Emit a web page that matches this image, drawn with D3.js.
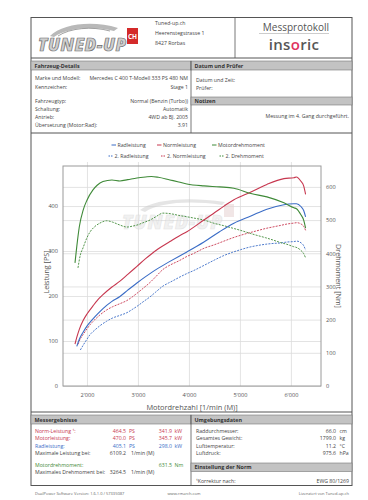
<!DOCTYPE html>
<html><head><meta charset="utf-8">
<script src="https://cdn.jsdelivr.net/npm/d3@7"></script>
<style>body{margin:0;background:#fff}svg{display:block}text{font-family:"Open Sans",sans-serif}</style>
</head><body><svg id="c" width="368" height="500"></svg>
<script>
// ---------- data ----------
const rpmTicks = [2000, 3000, 4000, 5000, 6000];
const psTicks = [0, 100, 200, 300, 400];
const nmTicks = [0, 100, 200, 300, 400, 500, 600];

const rpm1 = [1765,1800,1850,1927,2000,2118,2200,2314,2490,2647,2800,2980,3150,3264,3400,3627,3800,3960,4294,4600,4882,5216,5529,5863,6059,6109,6196,6250,6288];
const normPS = [93,108,126,146,160,178,190,203,220,233,248,266,283,293.5,305,321,333,343,369,393,414,431,448,461,463,464.5,455,445,426];
const wheelPS = [null,88,104,120,133,149,159,172,188,199,213,229,243,252,262,277,288,298,320,343,362,378,393,403,405,405.1,399,390,376];
const motorNm = [371,420,480,531,560,591,605,616,621,618,622,627,630,631.5,629,621,615,609,603,600,596,580,570,552,537,534,516,500,476];

const rpm2 = [1824,1870,1922,2000,2059,2150,2255,2386,2500,2647,2784,2900,2980,3100,3235,3350,3490,3600,3686,3800,3961,4100,4294,4500,4686,4850,5013,5200,5333,5500,5667,5800,5922,6050,6118,6200,6250,6288];
const norm2PS = [92.5,105,114,127,136,147,158,169,176,183,190,199,206,217,230,243,259,267,272,278,288,295,306,314,322,329,335,341,345,350,354,357,360,362,363,360,355,346];
const wheel2PS = [null,80,90,104,114,124,134,144,151,157,163,171,177,187,198,209,222,229,234,241,250,257,268,280,290,297,303,309,312,315,317,318,320,321,322,318,312,302];
const torque2Nm = [356,395,416,447,464,480,491,498,494,485,479,482,485,492,500,510,521,520,518,514,510,506,500,490,483,476,469,460,454,447,439,432,427,420,417,408,399,386];

const detailLabels = ["Marke und Modell:", "Kennzeichen:", "Fahrzeugtyp:", "Schaltung:", "Antrieb:", "Übersetzung (Motor:Rad):"];
const detailValues = ["Mercedes C 400 T-Modell 333 PS 480 NM", "Stage 1", "Normal (Benzin (Turbo))", "Automatik", "4WD ab BJ. 2005", "3.91"];
const envLabels = ["Raddurchmesser:", "Gesamtes Gewicht:", "Lufttemperatur:", "Luftdruck:"];
const envValues = ["66.0", "1799.0", "11.2", "975.6"];
const envUnits = ["cm", "kg", "°C", "hPa"];

const C = {blue:"#3a6cc6", red:"#c7374f", green:"#3f8a38", frame:"#555", grid:"#dcdcdc", txt:"#444", bar:"#c3c3c3"};
const FS = 5.2;

const svg = d3.select("#c");
svg.append("rect").attr("width",368).attr("height",500).attr("fill","#fff");

function txt(g, x, y, s, opt={}) {
  return g.append("text").attr("x",x).attr("y",y).text(s)
    .attr("font-size", opt.size||FS).attr("fill", opt.fill||C.txt)
    .attr("text-anchor", opt.anchor||"start").attr("font-weight", opt.weight||"normal")
    .attr("dominant-baseline","central");
}
function bar(x1, y1, x2, y2, label) {
  svg.append("rect").attr("x",x1).attr("y",y1).attr("width",x2-x1).attr("height",y2-y1)
    .attr("fill",C.bar).attr("stroke","#777").attr("stroke-width",0.6);
  txt(svg, x1+3.5, (y1+y2)/2, label, {weight:"bold", fill:"#333", size:5.4});
}
function hline(x1,x2,y,w=1,col=C.frame){svg.append("line").attr("x1",x1).attr("x2",x2).attr("y1",y).attr("y2",y).attr("stroke",col).attr("stroke-width",w);}
function vline(x,y1,y2,w=1,col=C.frame){svg.append("line").attr("x1",x).attr("x2",x).attr("y1",y1).attr("y2",y2).attr("stroke",col).attr("stroke-width",w);}

// ---------- frame ----------
svg.append("rect").attr("x",31).attr("y",17.5).attr("width",321).attr("height",468)
  .attr("fill","none").attr("stroke",C.frame).attr("stroke-width",1);
hline(31,352,58);
vline(235,17.5,58,0.8);

// header: logo
const logo = svg.append("g");
logo.append("path").attr("d","M50,36 C62,24 92,20 118,28 L114,31 C92,25 66,28 54,37 Z").attr("fill","#b9b9b9");
logo.append("path").attr("d","M58,36 C70,28 92,26 110,31").attr("fill","none").attr("stroke","#8a8a8a").attr("stroke-width",0.8);
logo.append("text").attr("x",38).attr("y",51).text("TUNED-UP").attr("font-size",17).attr("font-weight","900")
  .attr("font-style","italic").attr("fill","#cfcfcf").attr("stroke","#6e6e6e").attr("stroke-width",0.7)
  .attr("textLength",88).attr("font-family","DejaVu Sans");
logo.append("rect").attr("x",127).attr("y",28).attr("width",11).attr("height",16).attr("fill","#d42a2a");
logo.append("text").attr("x",132.5).attr("y",39).text("CH").attr("font-size",6.5).attr("font-weight","bold").attr("text-anchor","middle").attr("fill","#fff");
txt(svg,155,23,"Tuned-up.ch");
txt(svg,155,33,"Heerenstegstrasse 1");
txt(svg,155,43,"8427 Rorbas");
txt(svg,296,27,"Messprotokoll",{size:10,anchor:"middle",fill:"#555"});
hline(259,329,33.5,0.6,"#aaa");
const ins = svg.append("text").attr("x",294).attr("y",44).attr("text-anchor","middle").attr("dominant-baseline","central")
  .attr("font-size",15).attr("font-weight",600).attr("fill","#575757").attr("letter-spacing",0.3);
ins.append("tspan").text("ins");
ins.append("tspan").text("o").attr("fill","#e0325f");
ins.append("tspan").text("ric");

// ---------- details ----------
bar(31,61,191,70,"Fahrzeug-Details");
bar(191,61,352,70,"Datum und Prüfer");
vline(191,61,133,0.8);
const detY = [78,86.5,101,108.5,116.5,124.5];
detailLabels.forEach((l,i)=>{ txt(svg,35,detY[i],l); txt(svg,188,detY[i],detailValues[i],{anchor:"end"}); });
txt(svg,196,79.5,"Datum und Zeit:");
txt(svg,196,88,"Prüfer:");
bar(191,97,352,105,"Notizen");
txt(svg,349,116,"Messung im 4. Gang durchgeführt.",{anchor:"end"});
hline(31,352,133);

// ---------- legend ----------
const leg = [
  {x:111.5,y:145,t:"Radleistung",c:C.blue,d:null},
  {x:157,y:145,t:"Normleistung",c:C.red,d:null},
  {x:212,y:145,t:"Motordrehmoment",c:C.green,d:null},
  {x:108.5,y:156,t:"2. Radleistung",c:C.blue,d:"1.5,1"},
  {x:161,y:156,t:"2. Normleistung",c:C.red,d:"1.5,1"},
  {x:219.5,y:156,t:"2. Drehmoment",c:C.green,d:"1.5,1"}
];
leg.forEach(o=>{
  svg.append("line").attr("x1",o.x).attr("x2",o.x+4.5).attr("y1",o.y).attr("y2",o.y)
    .attr("stroke",o.c).attr("stroke-width",1).attr("stroke-dasharray",o.d);
  txt(svg,o.x+6,o.y,o.t,{size:5.2});
});

// ---------- chart ----------
const L=63, R=321, T=166, B=386;
const x = d3.scaleLinear().domain([1530,6590]).range([L,R]);
const yL = d3.scaleLinear().domain([0,489]).range([B,T]);
const yR = d3.scaleLinear().domain([0,663]).range([B,T]);

const gridX = svg.append("g").attr("transform",`translate(0,${B})`)
  .call(d3.axisBottom(x).tickValues(rpmTicks).tickSize(-(B-T+4)).tickFormat(""));
const gridL = svg.append("g").attr("transform",`translate(${L},0)`)
  .call(d3.axisLeft(yL).tickValues(psTicks).tickSize(-(R-L)).tickFormat(""));
const gridR = svg.append("g").attr("transform",`translate(${R},0)`)
  .call(d3.axisRight(yR).tickValues(nmTicks).tickSize(-(R-L)).tickFormat(""));
[gridX,gridL,gridR].forEach(g=>{ g.select(".domain").remove(); g.selectAll("line").attr("stroke",C.grid).attr("stroke-width",0.8); });

// watermark
const wm = svg.append("g").attr("opacity",0.55);
wm.append("path").attr("d","M140,210 C152,200 185,196 225,202 L222,205 C188,200 158,203 145,212 Z").attr("fill","#d0d0d0");
wm.append("text").attr("x",122).attr("y",229).text("TUNED-UP").attr("font-size",19).attr("font-weight","900")
  .attr("font-style","italic").attr("fill","#e6e6e6").attr("stroke","#cfcfcf").attr("stroke-width",0.6)
  .attr("textLength",100).attr("font-family","DejaVu Sans");
wm.append("rect").attr("x",224).attr("y",204).attr("width",10).attr("height",13).attr("fill","#e7d2d2");

svg.append("rect").attr("x",L).attr("y",T).attr("width",R-L).attr("height",B-T)
  .attr("fill","none").attr("stroke","#9a9a9a").attr("stroke-width",1);

const axB = svg.append("g").attr("transform",`translate(0,${B})`)
  .call(d3.axisBottom(x).tickValues(rpmTicks).tickSize(0).tickPadding(7.5).tickFormat(d=>d3.format(",")(d).replace(",","'")));
const axL = svg.append("g").attr("transform",`translate(${L},0)`)
  .call(d3.axisLeft(yL).tickValues(psTicks).tickSize(0).tickPadding(5));
const axR = svg.append("g").attr("transform",`translate(${R},0)`)
  .call(d3.axisRight(yR).tickValues(nmTicks).tickSize(0).tickPadding(5));
[axB,axL,axR].forEach(g=>{ g.select(".domain").remove();
  g.selectAll("text").attr("font-size",5.6).attr("fill","#555").attr("font-family","Open Sans, sans-serif"); });

svg.append("text").attr("transform","translate(46,272) rotate(-90)").attr("text-anchor","middle")
  .attr("dominant-baseline","central").attr("font-size",7.2).attr("fill","#555").text("Leistung [PS]");
svg.append("text").attr("transform","translate(339,276) rotate(90)").attr("text-anchor","middle")
  .attr("dominant-baseline","central").attr("font-size",7.2).attr("fill","#555").text("Drehmoment [Nm]");
svg.append("text").attr("x",192).attr("y",406.5).attr("text-anchor","middle")
  .attr("dominant-baseline","central").attr("font-size",7.4).attr("fill","#555").text("Motordrehzahl [1/min (M)]");

const lineL = d3.line().defined(d=>d[1]!=null).x(d=>x(d[0])).y(d=>yL(d[1])).curve(d3.curveMonotoneX);
const lineR = d3.line().defined(d=>d[1]!=null).x(d=>x(d[0])).y(d=>yR(d[1])).curve(d3.curveMonotoneX);
const series = [
  {r:rpm2,v:wheel2PS,f:lineL,c:C.blue,d:"2,1.2"},
  {r:rpm2,v:norm2PS,f:lineL,c:C.red,d:"2,1.2"},
  {r:rpm2,v:torque2Nm,f:lineR,c:C.green,d:"2,1.2"},
  {r:rpm1,v:wheelPS,f:lineL,c:C.blue,d:null},
  {r:rpm1,v:normPS,f:lineL,c:C.red,d:null},
  {r:rpm1,v:motorNm,f:lineR,c:C.green,d:null}
];
series.forEach(s=>{
  svg.append("path").datum(s.r.map((r,i)=>[r,s.v[i]])).attr("d",s.f)
    .attr("fill","none").attr("stroke",s.c).attr("stroke-width",s.d?0.9:1.1).attr("stroke-dasharray",s.d);
});

// ---------- results ----------
hline(31,352,412);
bar(31,415,191,424,"Messergebnisse");
bar(191,415,352,424,"Umgebungsdaten");
vline(191,415,486,0.8);
const resRows = [
  {y:430.7,l:"Norm-Leistung ¹:",c:C.red,v1:"464.5",u1:"PS",v2:"341.9",u2:"kW"},
  {y:438.3,l:"Motorleistung:",c:C.red,v1:"470.0",u1:"PS",v2:"345.7",u2:"kW"},
  {y:445.7,l:"Radleistung:",c:C.blue,v1:"405.1",u1:"PS",v2:"298.0",u2:"kW"},
  {y:452.5,l:"Maximale Leistung bei:",c:C.txt,v1:"6109.2",u1:"1/min (M)"},
  {y:465,l:"Motordrehmoment:",c:C.green,v2:"631.5",u2:"Nm"},
  {y:471.8,l:"Maximales Drehmoment bei:",c:C.txt,v1:"3264.5",u1:"1/min (M)"}
];
resRows.forEach(r=>{
  txt(svg,35,r.y,r.l,{fill:r.c});
  if(r.v1){ txt(svg,126,r.y,r.v1,{anchor:"end",fill:r.c}); txt(svg,r.u1.length>2?131:129,r.y,r.u1,{fill:r.c}); }
  if(r.v2){ txt(svg,172,r.y,r.v2,{anchor:"end",fill:r.c}); txt(svg,174.5,r.y,r.u2,{fill:r.c}); }
});
const envY=[430.7,438.3,445.7,452.5];
envLabels.forEach((l,i)=>{ txt(svg,196,envY[i],l); txt(svg,336,envY[i],envValues[i],{anchor:"end"}); txt(svg,339.5,envY[i],envUnits[i]); });
bar(191,463,352,471.5,"Einstellung der Norm");
txt(svg,196,481,"¹Korrektur nach:");
txt(svg,349,481,"EWG 80/1269",{anchor:"end"});

// footer
txt(svg,35,493,"DualPower Software Version: 1.6.1.0 / 57335087",{size:4,fill:"#666"});
txt(svg,184,493,"www.rmarch.com",{size:4,fill:"#666",anchor:"middle"});
txt(svg,349,493,"Lizenziert von Tuned-up.ch",{size:4,fill:"#666",anchor:"end"});
</script></body></html>
